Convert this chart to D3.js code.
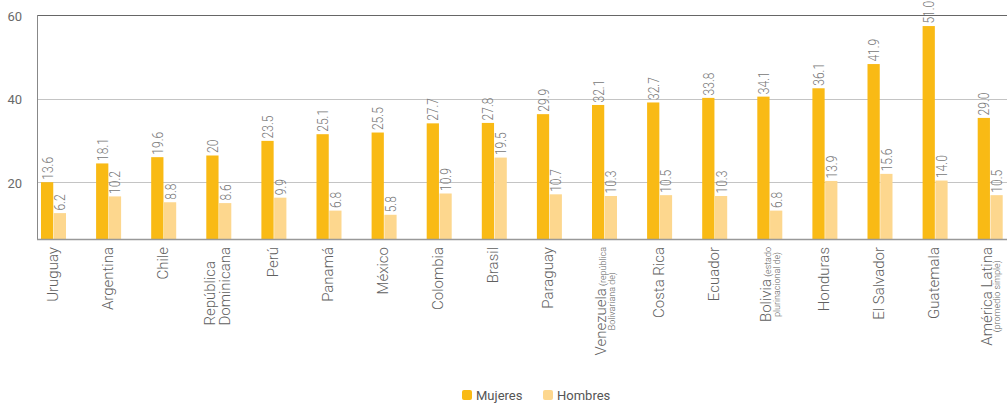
<!DOCTYPE html>
<html>
<head>
<meta charset="utf-8">
<script src="https://cdn.jsdelivr.net/npm/d3@7"></script>
<style>
  html, body { margin: 0; padding: 0; background: #fff; }
  svg { display: block; font-family: Roboto, "Noto Sans", sans-serif; }
</style>
</head>
<body>
<svg id="chart" width="1007" height="403"></svg>
<script>
// ---------- data ----------
const categories = ["Uruguay","Argentina","Chile","República Dominicana","Perú","Panamá","México","Colombia","Brasil","Paraguay","Venezuela (república Bolivariana de)","Costa Rica","Ecuador","Bolivia (estado plurinacional de)","Honduras","El Salvador","Guatemala","América Latina (promedio simple)"];
// category label lines: [main text, small text]
const categoryLines = [
  [["Uruguay",""]],
  [["Argentina",""]],
  [["Chile",""]],
  [["República",""],["Dominicana",""]],
  [["Perú",""]],
  [["Panamá",""]],
  [["México",""]],
  [["Colombia",""]],
  [["Brasil",""]],
  [["Paraguay",""]],
  [["Venezuela"," (república"],["","Bolivariana de)"]],
  [["Costa Rica",""]],
  [["Ecuador",""]],
  [["Bolivia"," (estado"],["","plurinacional de)"]],
  [["Honduras",""]],
  [["El Salvador",""]],
  [["Guatemala",""]],
  [["América Latina",""],["","(promedio simple)"]]
];
const series = ["Mujeres","Hombres"];
const mujeres = [13.6,18.1,19.6,20,23.5,25.1,25.5,27.7,27.8,29.9,32.1,32.7,33.8,34.1,36.1,41.9,51.0,29.0];
const hombres = [6.2,10.2,8.8,8.6,9.9,6.8,5.8,10.9,19.5,10.7,10.3,10.5,10.3,6.8,13.9,15.6,14.0,10.5];
const mujeresLabels = ["13.6","18.1","19.6","20","23.5","25.1","25.5","27.7","27.8","29.9","32.1","32.7","33.8","34.1","36.1","41.9","51.0","29.0"];
const hombresLabels = ["6.2","10.2","8.8","8.6","9.9","6.8","5.8","10.9","19.5","10.7","10.3","10.5","10.3","6.8","13.9","15.6","14.0","10.5"];
const yTicks = [20, 40, 60];
const axisMin = 6.35;   // value at the baseline of the printed axis
const axisMax = 60;

// ---------- layout ----------
(function draw() {
const colors = { Mujeres: "#F9BA15", Hombres: "#FDD78E" };
const plotLeft = 37, plotBottom = 239, plotTop = 15, step = 55.1;
const svg = d3.select("#chart");

const x0 = d3.scaleBand().domain(categories).range([plotLeft, plotLeft + step * categories.length]).padding(0);
const x1 = d3.scaleBand().domain(series).range([4, 29]).paddingInner(0.04);
const yAxisScale = d3.scaleLinear().domain([axisMin, axisMax]).range([plotBottom, plotTop]);
const yBar = d3.scaleLinear().domain([0, axisMax - axisMin]).range([plotBottom, plotTop]);

// gridlines
svg.append("g").selectAll("line").data(yTicks.filter(t => t < axisMax)).join("line")
  .attr("x1", plotLeft).attr("x2", 1007)
  .attr("y1", d => Math.round(yAxisScale(d)) + 0.5).attr("y2", d => Math.round(yAxisScale(d)) + 0.5)
  .attr("stroke", "#c4c4c4").attr("stroke-width", 1);

// y axis labels
const yAx = d3.axisLeft(yAxisScale).tickValues(yTicks).tickSize(0).tickPadding(15);
const yg = svg.append("g").attr("transform", `translate(${plotLeft},0)`).call(yAx);
yg.select(".domain").remove();
yg.selectAll("text").attr("font-size", 13).attr("fill", "#6a6a6a").attr("font-family", "Roboto, sans-serif")
  .attr("dy", "0.4em");

// bars
const rows = categories.map((c, i) => ({ cat: c, i, vals: [
  { s: "Mujeres", v: mujeres[i], label: mujeresLabels[i] },
  { s: "Hombres", v: hombres[i], label: hombresLabels[i] }
]}));

const groups = svg.append("g").selectAll("g").data(rows).join("g")
  .attr("transform", d => `translate(${x0(d.cat)},0)`);

groups.selectAll("rect").data(d => d.vals).join("rect")
  .attr("x", d => x1(d.s))
  .attr("y", d => yBar(d.v))
  .attr("width", x1.bandwidth())
  .attr("height", d => plotBottom - yBar(d.v))
  .attr("fill", d => colors[d.s]);

// value labels (rotated)
groups.selectAll("text.val").data(d => d.vals).join("text")
  .attr("class", "val")
  .attr("transform", d => `translate(${x1(d.s) + x1.bandwidth() / 2 + 5.5},${yBar(d.v) - 2.5}) rotate(-90) scale(0.8,1)`)
  .attr("text-anchor", "start")
  .attr("font-size", 15)
  .attr("font-weight", 300)
  .attr("fill", "#777")
  .text(d => d.label);

// top line (frame at 60), drawn over labels
svg.append("line").attr("x1", plotLeft).attr("x2", 1007)
  .attr("y1", Math.round(yAxisScale(axisMax)) + 0.5).attr("y2", Math.round(yAxisScale(axisMax)) + 0.5)
  .attr("stroke", "#666").attr("stroke-width", 1.2);
// left axis
svg.append("line").attr("x1", plotLeft + 0.5).attr("x2", plotLeft + 0.5)
  .attr("y1", yAxisScale(axisMax)).attr("y2", plotBottom)
  .attr("stroke", "#888").attr("stroke-width", 1);
// bottom axis
svg.append("line").attr("x1", plotLeft).attr("x2", 1007)
  .attr("y1", plotBottom + 0.5).attr("y2", plotBottom + 0.5)
  .attr("stroke", "#999").attr("stroke-width", 1.5);

// category labels
const bigSize = 15, smallSize = 9;
const labelTop = 247;
rows.forEach((r, i) => {
  const cx = x0(r.cat) + (x1(series[0]) + x1(series[1]) + x1.bandwidth()) / 2;
  const lines = categoryLines[i];
  const g = svg.append("g").attr("transform", `translate(${cx},${labelTop}) rotate(-90)`);
  let baselines;
  if (lines.length === 1) baselines = [4];
  else if (lines[1][0] !== "") baselines = [-3.5, 11];
  else baselines = [1.5, 10];
  const texts = lines.map((ln, k) => {
    const t = g.append("text").attr("y", baselines[k]).attr("fill", "#606060")
      .attr("font-weight", 300);
    if (ln[0]) t.append("tspan").attr("font-size", bigSize).text(ln[0]);
    if (ln[1]) t.append("tspan").attr("font-size", smallSize).text(ln[1]);
    return t;
  });
  const widths = texts.map(t => t.node().getComputedTextLength());
  const maxW = d3.max(widths);
  const align = (i === 3) ? "start" : "middle";
  texts.forEach((t, k) => {
    let x;
    if (align === "start") x = -maxW;
    else x = -maxW / 2 - widths[k] / 2;
    t.attr("x", x);
  });
});

// legend
const legend = svg.append("g").attr("transform", "translate(462,390)");
const legX = [0, 81];
series.forEach((s, k) => {
  const lg = legend.append("g").attr("transform", `translate(${legX[k]},0)`);
  lg.append("rect").attr("width", 10).attr("height", 10).attr("rx", 2).attr("fill", colors[s]);
  lg.append("text").attr("x", 14).attr("y", 5).attr("dy", "0.36em")
    .attr("font-size", 13).attr("fill", "#555").text(s);
});
})();
</script>
</body>
</html>
